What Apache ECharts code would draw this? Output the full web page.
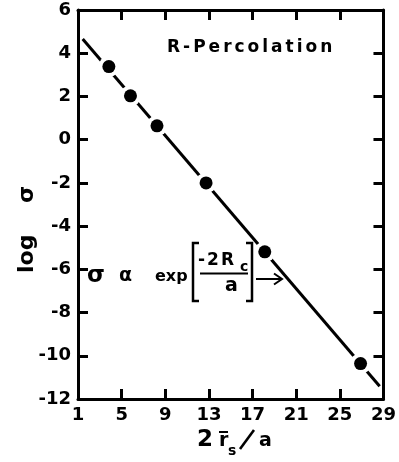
<!DOCTYPE html>
<html>
<head>
<meta charset="utf-8">
<script src="https://cdn.jsdelivr.net/npm/echarts@6/dist/echarts.min.js"></script>
<style>
  html, body { margin: 0; padding: 0; background: #fff; }
  #chart { width: 399px; height: 462px; }
</style>
</head>
<body>
<div id="chart"></div>
<script>
// Measured conductivity: reduced hopping distance 2r/a against log(sigma)
const hopDistance = [3.83, 5.81, 8.24, 12.74, 18.12, 26.9];
const logSigma = [3.38, 2.03, 0.64, -2.0, -5.19, -10.36];

// End points of the straight-line fit
const fitX = [1.43, 28.65];
const fitY = [4.66, -11.41];

// Tick values
const xTicks = [1, 5, 9, 13, 17, 21, 25, 29];
const xInnerTicks = [5, 9, 13, 17, 21, 25];
const yInnerTicks = [-10, -8, -6, -4, -2, 0, 2, 4];

const FONT = '"DejaVu Sans", "Liberation Sans", sans-serif';
const INK = '#000';

const points = hopDistance.map((x, i) => [x, logSigma[i]]);
const fitLine = fitX.map((x, i) => [x, fitY[i]]);

// Text is anchored at its middle; shift from the alphabetic baseline
const MID = 0.3;

// Lay out a string char by char with extra tracking
const measureCtx = document.createElement('canvas').getContext('2d');
function tracked(str, left, baseline, size, gap) {
  const font = `bold ${size}px ${FONT}`;
  measureCtx.font = font;
  const out = [];
  let cx = left;
  for (const ch of str) {
    out.push({
      type: 'text', x: cx, y: baseline - MID * size, silent: true,
      style: { text: ch, font, fill: INK, textAlign: 'left', textVerticalAlign: 'middle' }
    });
    cx += measureCtx.measureText(ch).width + gap;
  }
  return out;
}
function txt(str, x, baseline, size) {
  return {
    type: 'text', x, y: baseline - MID * size, silent: true,
    style: { text: str, font: `bold ${size}px ${FONT}`, fill: INK, textAlign: 'left', textVerticalAlign: 'middle' }
  };
}
// Vertical text reading bottom to top; baseline is a vertical line at x
function vtxt(str, baselineX, bottomY, size) {
  return {
    type: 'text', x: baselineX - MID * size, y: bottomY, rotation: Math.PI / 2, silent: true,
    style: { text: str, font: `bold ${size}px ${FONT}`, fill: INK, textAlign: 'left', textVerticalAlign: 'middle' }
  };
}
function stroke(pts, w) {
  return { type: 'polyline', silent: true, shape: { points: pts }, style: { stroke: INK, lineWidth: w, fill: null, lineCap: 'butt', lineJoin: 'miter' } };
}

const axisLineStyle = { onZero: false, lineStyle: { color: INK, width: 3 } };
const tickStyle = { lineStyle: { color: INK, width: 3 } };
const labelFont = { color: INK, fontFamily: FONT, fontWeight: 'bold', fontSize: 18 };

const graphics = [
  // title
  ...tracked('R-Percolation', 167, 53, 17, 3),
  // y-axis title
  vtxt('log', 34, 273, 22),
  vtxt('σ', 34, 203, 22),
  // x-axis title: 2 r̄s / a
  txt('2', 197, 447, 23),
  txt('r', 219, 447, 19),
  stroke([[219, 432], [228, 432]], 2),
  txt('s', 228, 456, 14),
  stroke([[240, 449], [254, 430]], 2.6),
  txt('a', 259, 447, 19),
  // relation: sigma ~ exp[-2Rc/a]
  txt('σ', 87, 283, 23),
  txt('α', 119, 282, 19),
  txt('exp', 155, 282, 16),
  stroke([[199, 243], [193, 243], [193, 301], [199, 301]], 2.5),
  ...tracked('-2R', 198, 266, 17, 2),
  txt('c', 240, 272, 14),
  stroke([[200, 273.5], [248, 273.5]], 2),
  txt('a', 225, 292, 19),
  stroke([[246, 243], [252, 243], [252, 301], [246, 301]], 2.5),
  stroke([[256, 279], [282, 279]], 2),
  stroke([[274, 273.5], [282, 279], [274, 284.5]], 2)
];

const chart = echarts.init(document.getElementById('chart'), null, { renderer: 'canvas' });
chart.setOption({
  backgroundColor: '#fff',
  animation: false,
  grid: { left: 78, right: 14, top: 10, bottom: 63 },
  xAxis: [
    {
      type: 'value', position: 'bottom', min: 1, max: 29,
      axisLine: axisLineStyle,
      axisTick: { show: true, inside: true, length: 10, customValues: xInnerTicks, ...tickStyle },
      axisLabel: { ...labelFont, margin: 7, customValues: xTicks },
      splitLine: { show: false }
    },
    {
      type: 'value', position: 'top', min: 1, max: 29,
      axisLine: axisLineStyle,
      axisTick: { show: true, inside: true, length: 10, customValues: xInnerTicks, ...tickStyle },
      axisLabel: { show: false },
      splitLine: { show: false }
    }
  ],
  yAxis: [
    {
      type: 'value', position: 'left', min: -12, max: 6, interval: 2,
      axisLine: axisLineStyle,
      axisTick: { show: true, inside: true, length: 10, customValues: yInnerTicks, ...tickStyle },
      axisLabel: { ...labelFont, margin: 7, padding: [4, 0, 0, 0] },
      splitLine: { show: false }
    },
    {
      type: 'value', position: 'right', min: -12, max: 6, interval: 2,
      axisLine: axisLineStyle,
      axisTick: { show: true, inside: true, length: 10, customValues: yInnerTicks, ...tickStyle },
      axisLabel: { show: false },
      splitLine: { show: false }
    }
  ],
  series: [
    {
      type: 'line', data: fitLine, symbol: 'none', silent: true,
      lineStyle: { color: INK, width: 3 }, z: 2
    },
    {
      // white halo that breaks the fit line around each point
      type: 'scatter', data: points, symbol: 'circle', symbolSize: 21, silent: true,
      itemStyle: { color: '#fff', opacity: 1 }, z: 3
    },
    {
      type: 'scatter', data: points, symbol: 'circle', symbolSize: 13, silent: true,
      itemStyle: { color: INK, opacity: 1 }, z: 4
    }
  ],
  graphic: { elements: graphics }
});
</script>
</body>
</html>
